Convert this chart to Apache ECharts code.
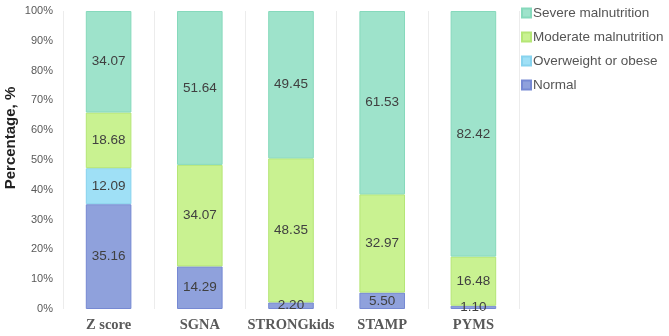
<!DOCTYPE html>
<html>
<head>
<meta charset="utf-8">
<script src="https://cdn.jsdelivr.net/npm/echarts@6/dist/echarts.min.js"></script>
<style>
  html, body { margin: 0; padding: 0; background: #fff; }
  #chart { width: 669px; height: 336px; }
</style>
</head>
<body>
<div id="chart"></div>
<script>
const categories = ['Z score', 'SGNA', 'STRONGkids', 'STAMP', 'PYMS'];
const normal = [35.16, 14.29, 2.20, 5.50, 1.10];
const overweight = [12.09, 0, 0, 0, 0];
const moderate = [18.68, 34.07, 48.35, 32.97, 16.48];
const severe = [34.07, 51.64, 49.45, 61.53, 82.42];
const yTicks = [0, 10, 20, 30, 40, 50, 60, 70, 80, 90, 100];

const chart = echarts.init(document.getElementById('chart'));

const mk = (name, values, fill, border) => ({
  name,
  type: 'bar',
  stack: 'total',
  barWidth: '50%',
  data: values.map((v) => (v === 0 ? '-' : v)),
  itemStyle: { color: fill, borderColor: border, borderWidth: 1 },
  label: {
    show: true,
    position: 'inside',
    color: '#404040',
    fontFamily: 'Liberation Sans, Arial, sans-serif',
    fontSize: 13.5,
    formatter: (p) => Number(p.value).toFixed(2)
  }
});

chart.setOption({
  animation: false,
  grid: { left: 63, right: 150, top: 11, bottom: 27, outerBoundsMode: 'none' },
  legend: {
    orient: 'vertical',
    left: 516,
    top: 1,
    itemWidth: 9,
    itemHeight: 9,
    itemGap: 10,
    icon: 'rect',
    data: ['Severe malnutrition', 'Moderate malnutrition', 'Overweight or obese', 'Normal'],
    textStyle: { color: '#555', fontSize: 13.5, fontFamily: 'Liberation Sans, Arial, sans-serif', padding: [0, 0, 0, -3] }
  },
  xAxis: {
    type: 'category',
    data: categories,
    axisLine: { show: false },
    axisTick: { show: false },
    axisLabel: {
      interval: 0,
      color: '#595959',
      fontFamily: 'Liberation Serif, Times New Roman, serif',
      fontWeight: 'bold',
      fontSize: 14.5,
      margin: 9
    },
    splitLine: { show: true, interval: 0, lineStyle: { color: '#ececec', width: 1 } }
  },
  yAxis: {
    type: 'value',
    min: yTicks[0],
    max: yTicks[yTicks.length - 1],
    interval: 10,
    name: 'Percentage, %',
    nameLocation: 'middle',
    nameGap: 45,
    nameMoveOverlap: false,
    nameTextStyle: {
      color: '#222',
      fontSize: 15,
      fontWeight: 'bold',
      fontFamily: 'Liberation Sans, Arial, sans-serif',
      padding: [0, 0, 0, 44]
    },
    axisLine: { show: false },
    axisTick: { show: false },
    splitLine: { show: false },
    axisLabel: { color: '#595959', fontSize: 11, fontFamily: 'Liberation Sans, Arial, sans-serif', formatter: '{value}%', margin: 10 }
  },
  series: [
    mk('Normal', normal, '#8fa1dc', '#7689d3'),
    mk('Overweight or obese', overweight, '#9fe0f6', '#88d3ee'),
    mk('Moderate malnutrition', moderate, '#c9f291', '#b5e676'),
    mk('Severe malnutrition', severe, '#9ee3cb', '#86d9bc')
  ]
});
</script>
</body>
</html>
